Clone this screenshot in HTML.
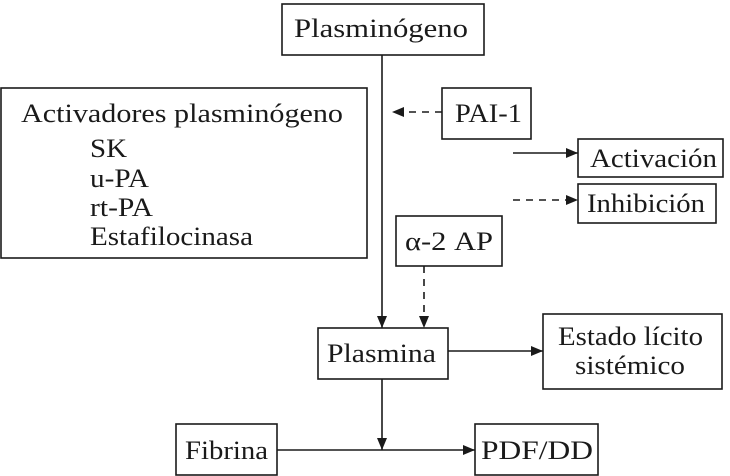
<!DOCTYPE html>
<html><head><meta charset="utf-8"><style>
html,body{margin:0;padding:0;background:#fff;width:730px;height:476px;overflow:hidden}
text{font-family:"Liberation Serif",serif;font-size:26px;fill:#1a1a1a}
</style></head><body>
<svg width="730" height="476" xmlns="http://www.w3.org/2000/svg">
<defs><marker id="a" markerWidth="12" markerHeight="10" refX="12" refY="5" orient="auto" markerUnits="userSpaceOnUse"><path d="M0,0 L12,5 L0,10 z" fill="#1a1a1a"/></marker></defs>
<g fill="none" stroke="#1a1a1a" stroke-width="1.6">
<rect x="282" y="4" width="202" height="51"/>
<rect x="1" y="88" width="366" height="170"/>
<rect x="442" y="88" width="89" height="51"/>
<rect x="578" y="139" width="145" height="38"/>
<rect x="578" y="184" width="138" height="39"/>
<rect x="396" y="216" width="106" height="50"/>
<rect x="318" y="328" width="130" height="51"/>
<rect x="543" y="314" width="179" height="75"/>
<rect x="176" y="424" width="101" height="51"/>
<rect x="475" y="424" width="123" height="51"/>
<line x1="382" y1="55" x2="382" y2="328" marker-end="url(#a)"/>
<line x1="442" y1="112" x2="392" y2="112" stroke-dasharray="7,6" marker-end="url(#a)"/>
<line x1="513" y1="153" x2="578" y2="153" marker-end="url(#a)"/>
<line x1="513" y1="200" x2="578" y2="200" stroke-dasharray="7,6" marker-end="url(#a)"/>
<line x1="424" y1="266" x2="424" y2="328" stroke-dasharray="7,6" marker-end="url(#a)"/>
<line x1="448" y1="351" x2="543" y2="351" marker-end="url(#a)"/>
<line x1="382" y1="379" x2="382" y2="450" marker-end="url(#a)"/>
<line x1="277" y1="450" x2="475" y2="450" marker-end="url(#a)"/>
</g>
<g lengthAdjust="spacingAndGlyphs">
<text x="294" y="37" textLength="174" lengthAdjust="spacingAndGlyphs">Plasminógeno</text>
<text x="21" y="122" textLength="322" lengthAdjust="spacingAndGlyphs">Activadores plasminógeno</text>
<text x="90" y="157" textLength="37" lengthAdjust="spacingAndGlyphs">SK</text>
<text x="90" y="187" textLength="59" lengthAdjust="spacingAndGlyphs">u-PA</text>
<text x="90" y="216" textLength="63" lengthAdjust="spacingAndGlyphs">rt-PA</text>
<text x="90" y="245" textLength="163" lengthAdjust="spacingAndGlyphs">Estafilocinasa</text>
<text x="455" y="122" textLength="67" lengthAdjust="spacingAndGlyphs">PAI-1</text>
<text x="590" y="167" textLength="127" lengthAdjust="spacingAndGlyphs">Activación</text>
<text x="587" y="212" textLength="118" lengthAdjust="spacingAndGlyphs">Inhibición</text>
<text x="405" y="250" textLength="88" lengthAdjust="spacingAndGlyphs">α-2 AP</text>
<text x="327" y="362" textLength="109" lengthAdjust="spacingAndGlyphs">Plasmina</text>
<text x="558" y="345" textLength="145" lengthAdjust="spacingAndGlyphs">Estado lícito</text>
<text x="575" y="374" textLength="110" lengthAdjust="spacingAndGlyphs">sistémico</text>
<text x="185" y="459" textLength="83" lengthAdjust="spacingAndGlyphs">Fibrina</text>
<text x="481" y="459" textLength="112" lengthAdjust="spacingAndGlyphs">PDF/DD</text>
</g>
</svg>
</body></html>
